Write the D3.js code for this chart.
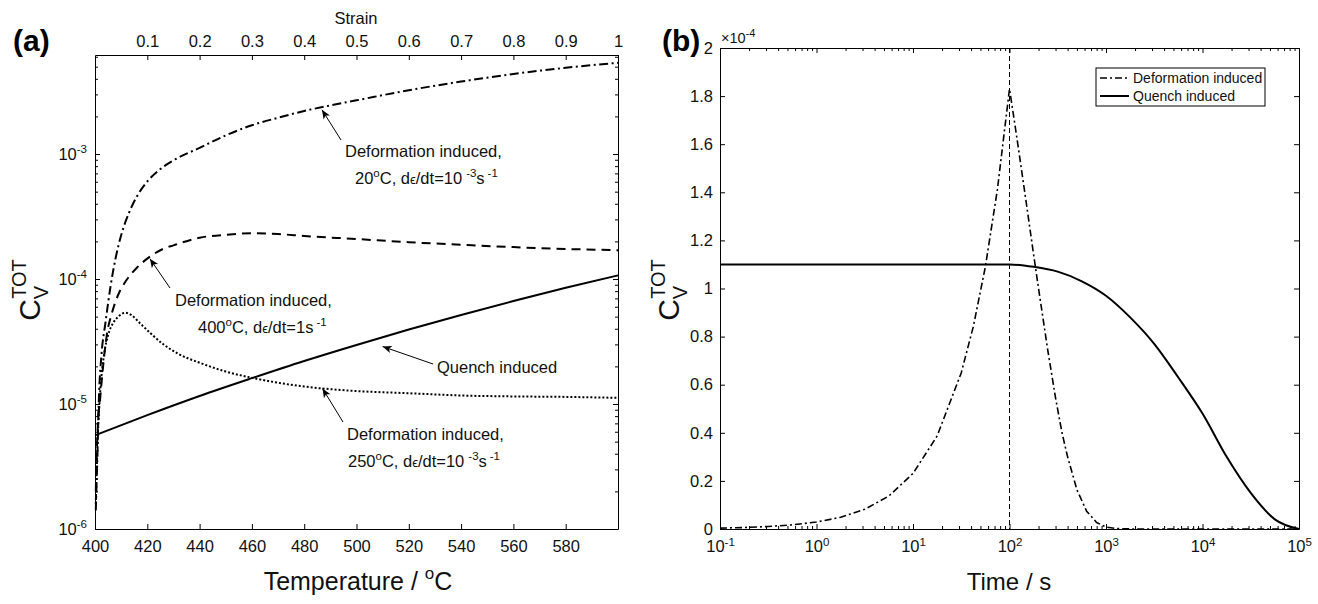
<!DOCTYPE html>
<html><head><meta charset="utf-8">
<script src="https://cdn.jsdelivr.net/npm/d3@7"></script>
<style>
body{margin:0;background:#fff;}
svg{font-family:"Liberation Sans",Arial,Helvetica,sans-serif;}
</style></head><body>
<svg id="c" width="1318" height="604"></svg>
<script>
// ---------------- DATA ----------------
// Panel (a): tick values
const strainTicks=[0.1,0.2,0.3,0.4,0.5,0.6,0.7,0.8,0.9,1];
const tempTicks=[400,420,440,460,480,500,520,540,560,580];
const cvDecadesA=[1e-6,1e-5,1e-4,1e-3];
// Panel (a): deformation induced, 20 C, 1e-3 /s (dash-dot)
const def20Temp=[400.3,400.8,401.5,402.5,404,406,408,410,413,416,420,425,430,440,450,460,470,480,490,500,520,540,560,580,600];
const def20Cv=[1.41e-6,3.16e-6,1.12e-5,2.51e-5,4.47e-5,8.9e-5,1.51e-4,2.24e-4,3.39e-4,4.57e-4,6.03e-4,7.59e-4,8.91e-4,1.12e-3,1.41e-3,1.70e-3,1.95e-3,2.21e-3,2.45e-3,2.69e-3,3.24e-3,3.80e-3,4.37e-3,4.90e-3,5.37e-3];
// Panel (a): deformation induced, 400 C, 1 /s (dashed)
const def400Temp=[400.3,401,402,403,404.5,406.5,409,412,416,421,426,430,440,450,460,470,480,500,520,540,560,580,600];
const def400Cv=[2.0e-6,6.3e-6,1.12e-5,1.91e-5,3.55e-5,5.37e-5,7.59e-5,9.77e-5,1.23e-4,1.51e-4,1.74e-4,1.86e-4,2.14e-4,2.26e-4,2.32e-4,2.29e-4,2.21e-4,2.09e-4,1.97e-4,1.88e-4,1.80e-4,1.74e-4,1.70e-4];
// Panel (a): deformation induced, 250 C, 1e-3 /s (dotted)
const def250Temp=[400.3,401,402,403.5,405,407,409,411.5,414,417,421,426,432,440,450,460,470,480,500,520,540,560,580,600];
const def250Cv=[1.58e-6,5.0e-6,1.26e-5,2.51e-5,3.55e-5,4.47e-5,5.01e-5,5.37e-5,5.13e-5,4.47e-5,3.72e-5,3.02e-5,2.51e-5,2.14e-5,1.82e-5,1.62e-5,1.48e-5,1.38e-5,1.27e-5,1.22e-5,1.17e-5,1.15e-5,1.14e-5,1.12e-5];
// Panel (a): quench induced (solid)
const quenchTemp=[400,420,440,460,480,500,520,540,560,580,600];
const quenchCv=[5.62e-6,8.15e-6,1.16e-5,1.61e-5,2.21e-5,2.97e-5,3.94e-5,5.16e-5,6.67e-5,8.51e-5,1.07e-4];

// Panel (b): tick values
const cvTicksB=[0,0.2,0.4,0.6,0.8,1,1.2,1.4,1.6,1.8,2];   // x 1e-4
const timeDecades=[0.1,1,10,100,1000,10000,100000];
// Panel (b): deformation induced (dash-dot), Cv in units of 1e-4
const defTime=[0.1,0.178,0.316,0.562,1,1.78,3.16,5.62,10,17.8,31.6,42.2,56.2,75,100,112,125,150,175,200,250,300,350,400,500,630,800,1000,1260,2000,100000];
const defCvB=[0.0037,0.0061,0.0103,0.0173,0.029,0.0487,0.082,0.137,0.231,0.387,0.649,0.842,1.09,1.413,1.83,1.70,1.57,1.35,1.16,1.00,0.74,0.545,0.40,0.30,0.163,0.074,0.027,0.008,0.002,0,0];
// Panel (b): quench induced (solid), Cv in units of 1e-4
const quenchTime=[0.1,1,10,31.6,100,178,316,562,1000,1780,3160,5620,10000,17800,31600,56200,100000];
const quenchCvB=[1.10,1.10,1.10,1.10,1.10,1.09,1.07,1.03,0.97,0.88,0.77,0.63,0.48,0.30,0.15,0.04,0.0];
const legendLabels=["Deformation induced","Quench induced"];

// ---------------- SETUP ----------------
const svg=d3.select("#c");
const FONT='"Liberation Sans",Arial,Helvetica,sans-serif';
const TFS=16.5; // tick font size
const defs=svg.append("defs");
defs.append("marker").attr("id","arr").attr("viewBox","0 0 10 10")
  .attr("refX",10).attr("refY",5).attr("markerWidth",11).attr("markerHeight",9)
  .attr("markerUnits","userSpaceOnUse").attr("orient","auto")
  .append("path").attr("d","M0,0.8 L10,5 L0,9.2 L2.5,5 Z").attr("fill","#000");

function logTicks(lo,hi){const out=[];for(let e=Math.floor(Math.log10(lo));e<=Math.ceil(Math.log10(hi));e++){for(let m=1;m<=9;m++){const v=m*Math.pow(10,e);if(v>=lo*0.9999&&v<=hi*1.0001)out.push(v);}}return out;}
function isDecade(v){const l=Math.log10(v);return Math.abs(l-Math.round(l))<1e-9;}
function styleAxis(g,fs){
  g.attr("font-family",FONT).attr("font-size",fs||TFS);
  g.selectAll(".domain").attr("stroke","#000").attr("stroke-width",1);
  g.selectAll(".tick line").attr("stroke","#000");
  g.selectAll(".tick text").attr("fill","#111");
}
function supLabel(t,base,exp,bs,es,rise){
  t.text(null);
  t.append("tspan").attr("font-size",bs).text(base);
  t.append("tspan").attr("font-size",es).attr("dy",-rise).text(exp);
}

// ---------------- PANEL (a) ----------------
const A={l:95,r:618,t:55,b:529};
const xA=d3.scaleLinear().domain([400,600]).range([A.l,A.r]);
const xS=d3.scaleLinear().domain([0,1]).range([A.l,A.r]);
const yA=d3.scaleLog().domain([1e-6,6.2e-3]).range([A.b,A.t]);
const gA=svg.append("g");

// bottom
gA.append("g").attr("transform",`translate(0,${A.b})`)
  .call(d3.axisBottom(xA).tickValues(tempTicks).tickSize(-5).tickSizeOuter(0).tickPadding(11).tickFormat(d3.format("d")))
  .call(g=>styleAxis(g));
// top (strain)
gA.append("g").attr("transform",`translate(0,${A.t})`)
  .call(d3.axisTop(xS).tickValues(strainTicks).tickSize(-5).tickSizeOuter(0).tickPadding(8).tickFormat(d=>d===1?"1":d3.format(".1f")(d)))
  .call(g=>styleAxis(g));
// left major + minor
const minorA=logTicks(1e-6,6.2e-3).filter(v=>!isDecade(v));
gA.append("g").attr("transform",`translate(${A.l},0)`)
  .call(d3.axisLeft(yA).tickValues(cvDecadesA).tickSize(-5).tickSizeOuter(0).tickPadding(8).tickFormat(d=>d))
  .call(g=>styleAxis(g))
  .call(g=>g.selectAll(".tick text").each(function(d){supLabel(d3.select(this),"10",String(Math.round(Math.log10(d))),TFS,11.5,7);}));
gA.append("g").attr("transform",`translate(${A.l},0)`)
  .call(d3.axisLeft(yA).tickValues(minorA).tickSize(-3).tickSizeOuter(0).tickFormat(""))
  .call(g=>{styleAxis(g);g.select(".domain").remove();});
// right
gA.append("g").attr("transform",`translate(${A.r},0)`)
  .call(d3.axisRight(yA).tickValues(cvDecadesA).tickSize(-5).tickSizeOuter(0).tickFormat(""))
  .call(g=>styleAxis(g));
gA.append("g").attr("transform",`translate(${A.r},0)`)
  .call(d3.axisRight(yA).tickValues(minorA).tickSize(-3).tickSizeOuter(0).tickFormat(""))
  .call(g=>{styleAxis(g);g.select(".domain").remove();});

// curves (a)
const lineA=d3.line().x(d=>xA(d[0])).y(d=>yA(d[1])).curve(d3.curveMonotoneX);
function addCurveA(T,V,dash,w){
  gA.append("path").datum(T.map((t,i)=>[t,V[i]])).attr("d",lineA)
    .attr("fill","none").attr("stroke","#000").attr("stroke-width",w)
    .attr("stroke-dasharray",dash).attr("stroke-linejoin","round");
}
addCurveA(def20Temp,def20Cv,"9,3.5,2,3.5",2);
addCurveA(def400Temp,def400Cv,"9,6",2);
addCurveA(def250Temp,def250Cv,"2,2",2);
addCurveA(quenchTemp,quenchCv,null,2);

// annotations (a)
function arrow(g,x1,y1,x2,y2){g.append("line").attr("x1",x1).attr("y1",y1).attr("x2",x2).attr("y2",y2)
  .attr("stroke","#000").attr("stroke-width",1).attr("marker-end","url(#arr)");}
function annoLine2(g,x,y,temp,rateParts){
  const t=g.append("text").attr("x",x).attr("y",y).attr("font-size",16.5).attr("fill","#111");
  t.append("tspan").text(temp);
  t.append("tspan").attr("font-size",11.5).attr("dy",-7).text("o");
  t.append("tspan").attr("dy",7).text("C, d");
  t.append("tspan").attr("font-size",13).text("\u03F5");
  t.append("tspan").text("/dt="+rateParts[0]);
  if(rateParts[1]!==null){
    t.append("tspan").attr("font-size",11.5).attr("dx",4).attr("dy",-7).text(rateParts[1]);
    t.append("tspan").attr("dy",7).text("s");
  } else {
    t.append("tspan").text("s");
  }
  t.append("tspan").attr("font-size",11.5).attr("dx",3).attr("dy",-7).text("-1");
}
const anno=gA.append("g").attr("font-family",FONT);
anno.append("text").attr("x",345).attr("y",157).attr("font-size",16.5).attr("fill","#111").text("Deformation induced,");
annoLine2(anno,355,184,"20",["10","-3"]);
arrow(anno,341,140,xA(486.8),yA(2.3e-3)+1);

anno.append("text").attr("x",175).attr("y",306).attr("font-size",16.5).attr("fill","#111").text("Deformation induced,");
annoLine2(anno,198,333,"400",["1",null]);
arrow(anno,170,288,xA(421),yA(1.51e-4)+2);

anno.append("text").attr("x",437).attr("y",373).attr("font-size",16.5).attr("fill","#111").text("Quench induced");
arrow(anno,433,364,xA(510),yA(2.99e-5)+2);

anno.append("text").attr("x",347).attr("y",440).attr("font-size",16.5).attr("fill","#111").text("Deformation induced,");
annoLine2(anno,348,467,"250",["10","-3"]);
arrow(anno,343,422,xA(487),yA(1.38e-5)+2);

// labels (a)
svg.append("text").attr("x",356).attr("y",24).attr("text-anchor","middle").attr("font-family",FONT).attr("font-size",TFS).attr("fill","#111").text("Strain");
{
  const t=svg.append("text").attr("x",358).attr("y",590).attr("text-anchor","middle").attr("font-family",FONT).attr("font-size",25).attr("fill","#111");
  t.append("tspan").text("Temperature / ");
  t.append("tspan").attr("font-size",17).attr("dy",-11).text("o");
  t.append("tspan").attr("dy",11).text("C");
}
svg.append("text").attr("x",13).attr("y",51).attr("font-family",FONT).attr("font-weight","bold").attr("font-size",30).attr("fill","#000").text("(a)");

function cvLabel(x,y){
  const t=svg.append("text").attr("transform",`translate(${x},${y}) rotate(-90)`).attr("text-anchor","middle")
    .attr("font-family",FONT).attr("font-size",30).attr("fill","#111");
  t.append("tspan").text("C");
  t.append("tspan").attr("font-size",20).attr("dy",8).text("V");
  t.append("tspan").attr("font-size",20).attr("dx",-13).attr("dy",-22).text("TOT");
}
cvLabel(40,290);

// ---------------- PANEL (b) ----------------
const B={l:720,r:1299,t:48,b:529};
const xB=d3.scaleLog().domain([0.1,1e5]).range([B.l,B.r]);
const yB=d3.scaleLinear().domain([0,2e-4]).range([B.b,B.t]);
const gB=svg.append("g");
const minorB=logTicks(0.1,1e5).filter(v=>!isDecade(v));
// bottom
gB.append("g").attr("transform",`translate(0,${B.b})`)
  .call(d3.axisBottom(xB).tickValues(timeDecades).tickSize(-5).tickSizeOuter(0).tickPadding(11).tickFormat(d=>d))
  .call(g=>styleAxis(g))
  .call(g=>g.selectAll(".tick text").each(function(d){supLabel(d3.select(this),"10",String(Math.round(Math.log10(d))),TFS,11.5,6);}));
gB.append("g").attr("transform",`translate(0,${B.b})`)
  .call(d3.axisBottom(xB).tickValues(minorB).tickSize(-3).tickSizeOuter(0).tickFormat(""))
  .call(g=>{styleAxis(g);g.select(".domain").remove();});
// top
gB.append("g").attr("transform",`translate(0,${B.t})`)
  .call(d3.axisTop(xB).tickValues(timeDecades).tickSize(-5).tickSizeOuter(0).tickFormat(""))
  .call(g=>styleAxis(g));
gB.append("g").attr("transform",`translate(0,${B.t})`)
  .call(d3.axisTop(xB).tickValues(minorB).tickSize(-3).tickSizeOuter(0).tickFormat(""))
  .call(g=>{styleAxis(g);g.select(".domain").remove();});
// left / right
gB.append("g").attr("transform",`translate(${B.l},0)`)
  .call(d3.axisLeft(yB).tickValues(cvTicksB.map(v=>v*1e-4)).tickSize(-5).tickSizeOuter(0).tickPadding(7).tickFormat(d=>d3.format("~g")(+(d*1e4).toFixed(2))))
  .call(g=>styleAxis(g));
gB.append("g").attr("transform",`translate(${B.r},0)`)
  .call(d3.axisRight(yB).tickValues(cvTicksB.map(v=>v*1e-4)).tickSize(-5).tickSizeOuter(0).tickFormat(""))
  .call(g=>styleAxis(g));
// exponent label
{
  const t=svg.append("text").attr("x",721).attr("y",43).attr("font-family",FONT).attr("font-size",14.5).attr("fill","#111");
  t.append("tspan").text("\u00D710");
  t.append("tspan").attr("font-size",11).attr("dy",-6).text("-4");
}
// vertical dashed line at t=100
gB.append("line").attr("x1",xB(100)).attr("x2",xB(100)).attr("y1",B.t).attr("y2",B.b)
  .attr("stroke","#000").attr("stroke-width",1).attr("stroke-dasharray","5,3");
// curves (b)
const lineB=d3.line().x(d=>xB(d[0])).y(d=>yB(d[1]*1e-4));
gB.append("path").datum(defTime.map((t,i)=>[t,defCvB[i]])).attr("d",lineB)
  .attr("fill","none").attr("stroke","#000").attr("stroke-width",1.6).attr("stroke-dasharray","7,3,2,3");
gB.append("path").datum(quenchTime.map((t,i)=>[t,quenchCvB[i]])).attr("d",lineB.curve(d3.curveMonotoneX))
  .attr("fill","none").attr("stroke","#000").attr("stroke-width",2);
// legend
{
  const lg=gB.append("g").attr("font-family",FONT);
  lg.append("rect").attr("x",1096).attr("y",68).attr("width",169).attr("height",38).attr("fill","#fff").attr("stroke","#000").attr("stroke-width",1);
  const dashes=["7,3,2,3",null];
  legendLabels.forEach((lab,i)=>{
    const y=78+i*18;
    lg.append("line").attr("x1",1100).attr("x2",1129).attr("y1",y).attr("y2",y).attr("stroke","#000").attr("stroke-width",i?2:1.5).attr("stroke-dasharray",dashes[i]);
    lg.append("text").attr("x",1133).attr("y",y+5).attr("font-size",14).attr("fill","#111").text(lab);
  });
}
svg.append("text").attr("x",1009).attr("y",590).attr("text-anchor","middle").attr("font-family",FONT).attr("font-size",24).attr("fill","#111").text("Time / s");
svg.append("text").attr("x",662).attr("y",51).attr("font-family",FONT).attr("font-weight","bold").attr("font-size",30).attr("fill","#000").text("(b)");
cvLabel(679,290);
</script>
</body></html>
